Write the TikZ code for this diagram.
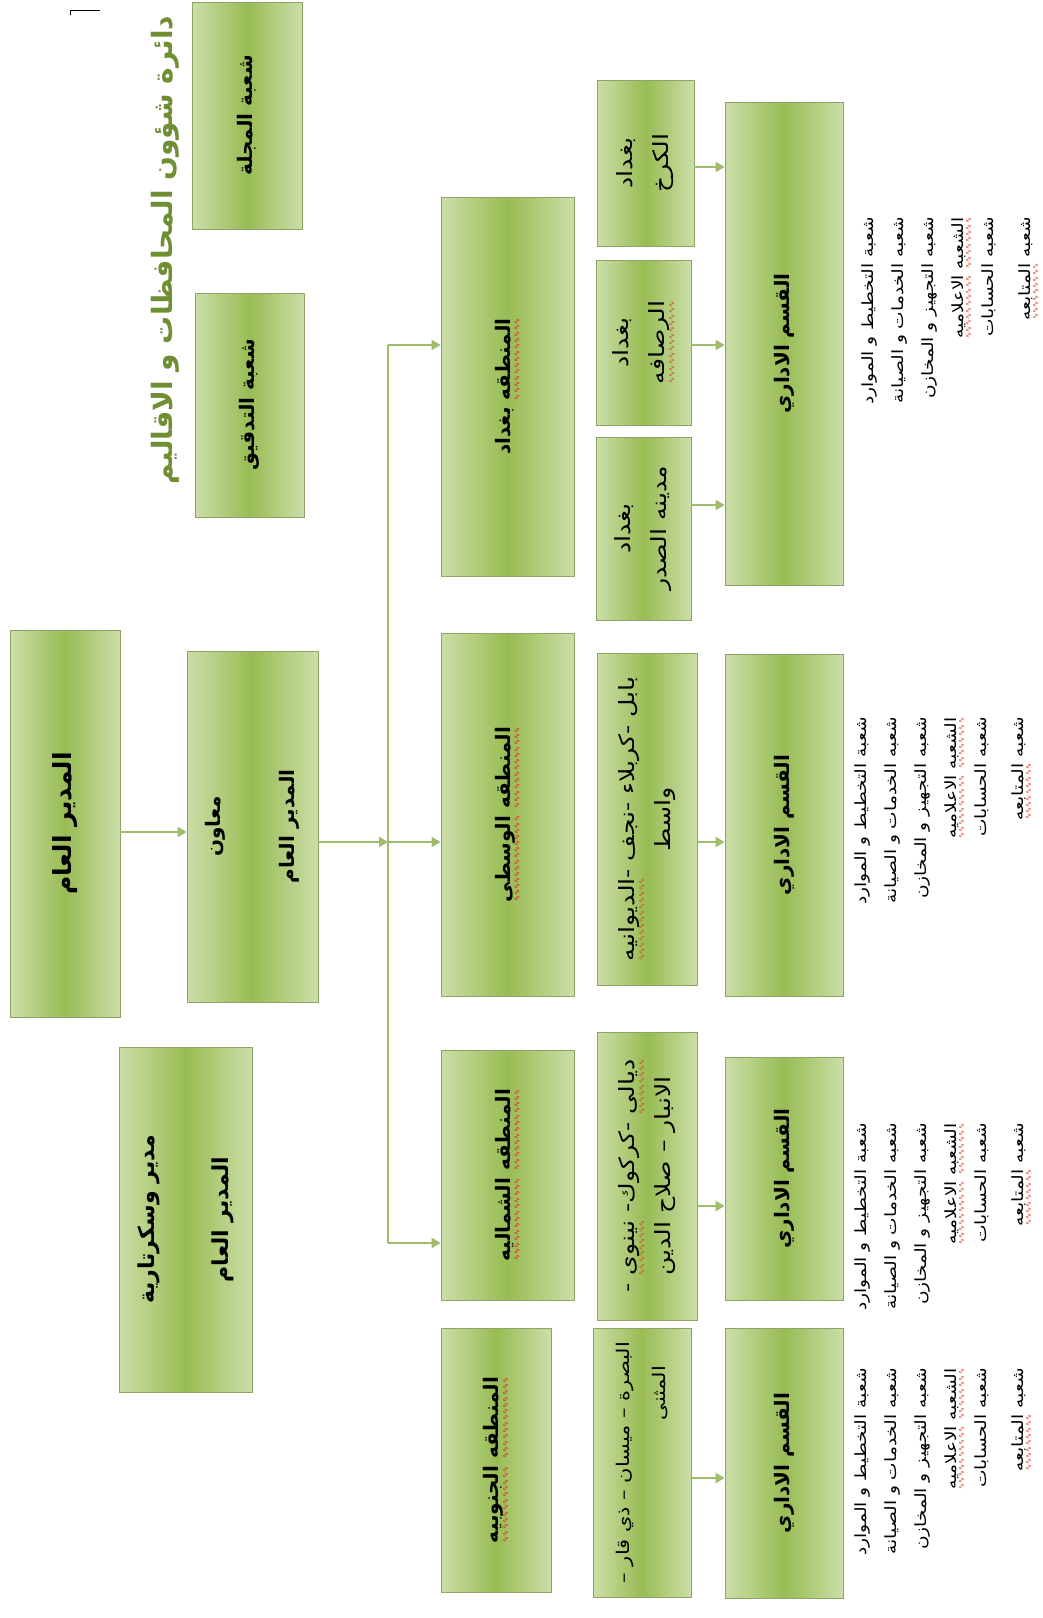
\documentclass[tikz,border=0pt]{standalone}
\usepackage{fontspec}
\newfontfamily\arabicfont[Script=Arabic]{DejaVu Sans}
\newfontfamily\arabicwide[Script=Arabic,FakeStretch=1.2]{DejaVu Sans}
\newfontfamily\wavefamily[Color=E43C28,FakeStretch=0.8]{DejaVu Sans}
\TeXXeTstate=1
\usetikzlibrary{arrows.meta,backgrounds}

\definecolor{boxlight}{RGB}{204,222,168}
\definecolor{boxdark}{RGB}{152,188,84}
\definecolor{boxedge}{RGB}{140,165,100}
\definecolor{linkgreen}{RGB}{158,188,105}
\definecolor{titlegreen}{RGB}{112,142,52}
\definecolor{boxshadow}{RGB}{78,96,38}

% one line of right-to-left Arabic text
\let\arfont\arabicfont
\newcommand\ar[1]{{\arfont\beginR#1\endR}}

% a single word with a red wavy line under it
\newcommand\wavy[1]{\hbox{\setbox0\hbox{#1}\dimen0=\wd0 \dimen2=0.48em
  \copy0\kern-\dimen0
  \lower\dimen2\hbox to\dimen0{\wavefamily\fontsize{9}{9}\selectfont
    \xleaders\hbox{∿}\hfil}}}

% a box given by its page corners: name, x1, y1, x2, y2, style, text
\newcommand\orgbox[7]{%
  \node[orgbox,#6,minimum width={(#5-#3)*1pt},minimum height={(#4-#2)*1pt}]
    (#1) at ({(#2+#4)/2},{(#3+#5)/2}) {#7};}

\tikzset{
  orgbox/.style={draw=boxedge, line width=0.8pt, rotate=90,
    left color=boxlight, right color=boxlight, middle color=boxdark,
    inner sep=0pt, align=center, text=black,
    font=\fontsize{20}{24}\selectfont\bfseries},
  subbox/.style={font={\let\arfont\arabicwide\fontsize{21}{36}\selectfont}},
  bigbox/.style={font=\fontsize{25}{30}\selectfont\bfseries},
  twoline/.style={font=\fontsize{20}{74}\selectfont\bfseries},
  listtext/.style={rotate=90, anchor=north east, inner sep=0pt, align=right,
    font={\let\arfont\arabicwide\fontsize{15.5}{30}\selectfont}},
  titletext/.style={rotate=90, inner sep=0pt, text=titlegreen,
    font=\fontsize{28}{34}\selectfont\bfseries},
  link/.style={draw=linkgreen, line width=2pt,
    -{Triangle[length=9pt,width=10pt]}},
  trunk/.style={draw=linkgreen, line width=2pt},
}

\newcommand\unitlist{\ar{شعبة التخطيط و الموارد}\\\ar{شعبه الخدمات و الصيانة}\\\ar{شعبه التجهيز و المخازن}\\\ar{\wavy{الشعبه} \wavy{الاعلاميه}}\\\ar{شعبه الحسابات}\\[7pt]\ar{شعبه \wavy{المتابعه}}}

\begin{document}
\begin{tikzpicture}[x=1pt,y=-1pt]
\useasboundingbox[fill=white] (0,0) rectangle (1043,1618);

% heading and the two sections beside it
\node[titletext] (title) at (165,250) {\ar{دائرة شؤون المحافظات و الاقاليم}};
\draw[black,line width=1pt] (70,10) -- (100,10) (70.5,10) -- (70.5,15);
\orgbox{maj}{192}{2}{302}{229}{}{\ar{شعبة المجلة}}
\orgbox{audit}{195}{293}{304}{517}{}{\ar{شعبة التدقيق}}
\begin{scope}[on background layer]
  \fill[boxshadow] ([shift={(3.5pt,-3.5pt)}]maj.north east) rectangle ([shift={(3.5pt,-3.5pt)}]maj.south west);
  \fill[boxshadow] ([shift={(3.5pt,-3.5pt)}]audit.north east) rectangle ([shift={(3.5pt,-3.5pt)}]audit.south west);
\end{scope}

% management
\orgbox{gm}{10}{630}{120}{1017}{bigbox}{\ar{المدير العام}}
\orgbox{dep}{187}{651}{318}{1002}{twoline}{\ar{معاون}\\\ar{المدير العام}}
\orgbox{sec}{119}{1047}{252}{1392}{twoline,font=\fontsize{22}{74}\selectfont\bfseries}{\ar{مدير وسكرتارية}\\\ar{المدير العام}}

% regions
\orgbox{rBag}{441}{197}{574}{576}{}{\ar{\wavy{المنطقه} بغداد}}
\orgbox{rMid}{441}{633}{574}{996}{}{\ar{\wavy{المنطقه} \wavy{الوسطى}}}
\orgbox{rNor}{441}{1050}{574}{1300}{}{\ar{\wavy{المنطقه} \wavy{الشماليه}}}
\orgbox{rSou}{441}{1328}{551}{1592}{}{\ar{\wavy{المنطقه} \wavy{الجنوبيه}}}

% governorates of each region
\orgbox{sKarkh}{597}{80}{694}{246}{subbox}{\ar{بغداد}\\\ar{الكرخ}}
\orgbox{sRus}{596}{260}{691}{425}{subbox}{\ar{بغداد}\\\ar{\wavy{الرصافه}}}
\orgbox{sSadr}{596}{437}{691}{620}{subbox}{\ar{بغداد}\\\ar{مدينه الصدر}}
\orgbox{sMid}{597}{653}{697}{985}{subbox}{\ar{بابل -كربلاء -نجف -\wavy{الديوانيه}}\\\ar{واسط}}
\orgbox{sNor}{597}{1032}{697}{1320}{subbox}{\ar{\wavy{ديالى} -كركوك- \wavy{نينوى} -}\\\ar{الانبار – صلاح الدين}}
\orgbox{sSou}{593}{1328}{691}{1597}{subbox,align=right,font={\let\arfont\arabicwide\fontsize{17.5}{36}\selectfont}}{\ar{البصرة – ميسان – ذي قار –}\\\ar{المثنى}\hspace*{24pt}}

% administrative sections
\orgbox{a1}{725}{102}{843}{585}{}{\ar{القسم الاداري}}
\orgbox{a2}{725}{654}{843}{996}{}{\ar{القسم الاداري}}
\orgbox{a3}{725}{1057}{843}{1300}{}{\ar{القسم الاداري}}
\orgbox{a4}{725}{1328}{843}{1598}{}{\ar{القسم الاداري}}

% units of each administrative section
\node[listtext] (l1) at (862,217) {\unitlist};
\node[listtext] (l2) at (855,717) {\unitlist};
\node[listtext] (l3) at (855,1123) {\unitlist};
\node[listtext] (l4) at (855,1368) {\unitlist};

% connectors
\coordinate (gmout) at ([yshift=-8.5pt]gm.south);
\draw[link] (gmout) -- (gmout -| dep.north);
\coordinate (depout) at ([yshift=-15.5pt]dep.south);
\coordinate (trunktop) at (388,345);
\coordinate (trunkbot) at (388,1243);
\coordinate (trunkmid) at (depout -| trunktop);
\draw[trunk] (trunktop) -- (trunkbot);
\draw[link] (depout) -- (trunkmid);
\draw[link] (trunkmid) -- (trunkmid -| rMid.north);
\draw[link] (trunktop) -- (trunktop -| rBag.north);
\draw[link] (trunkbot) -- (trunkbot -| rNor.north);

\foreach \s/\a/\d in {sKarkh/a1/-4, sRus/a1/-2.5, sSadr/a1/23.5, sMid/a2/-23, sNor/a3/-30, sSou/a4/-15.5}{
  \coordinate (\s out) at ([yshift=\d pt]\s.south);
  \draw[link] (\s out) -- (\s out -| \a.north);
}
\end{tikzpicture}
\end{document}
